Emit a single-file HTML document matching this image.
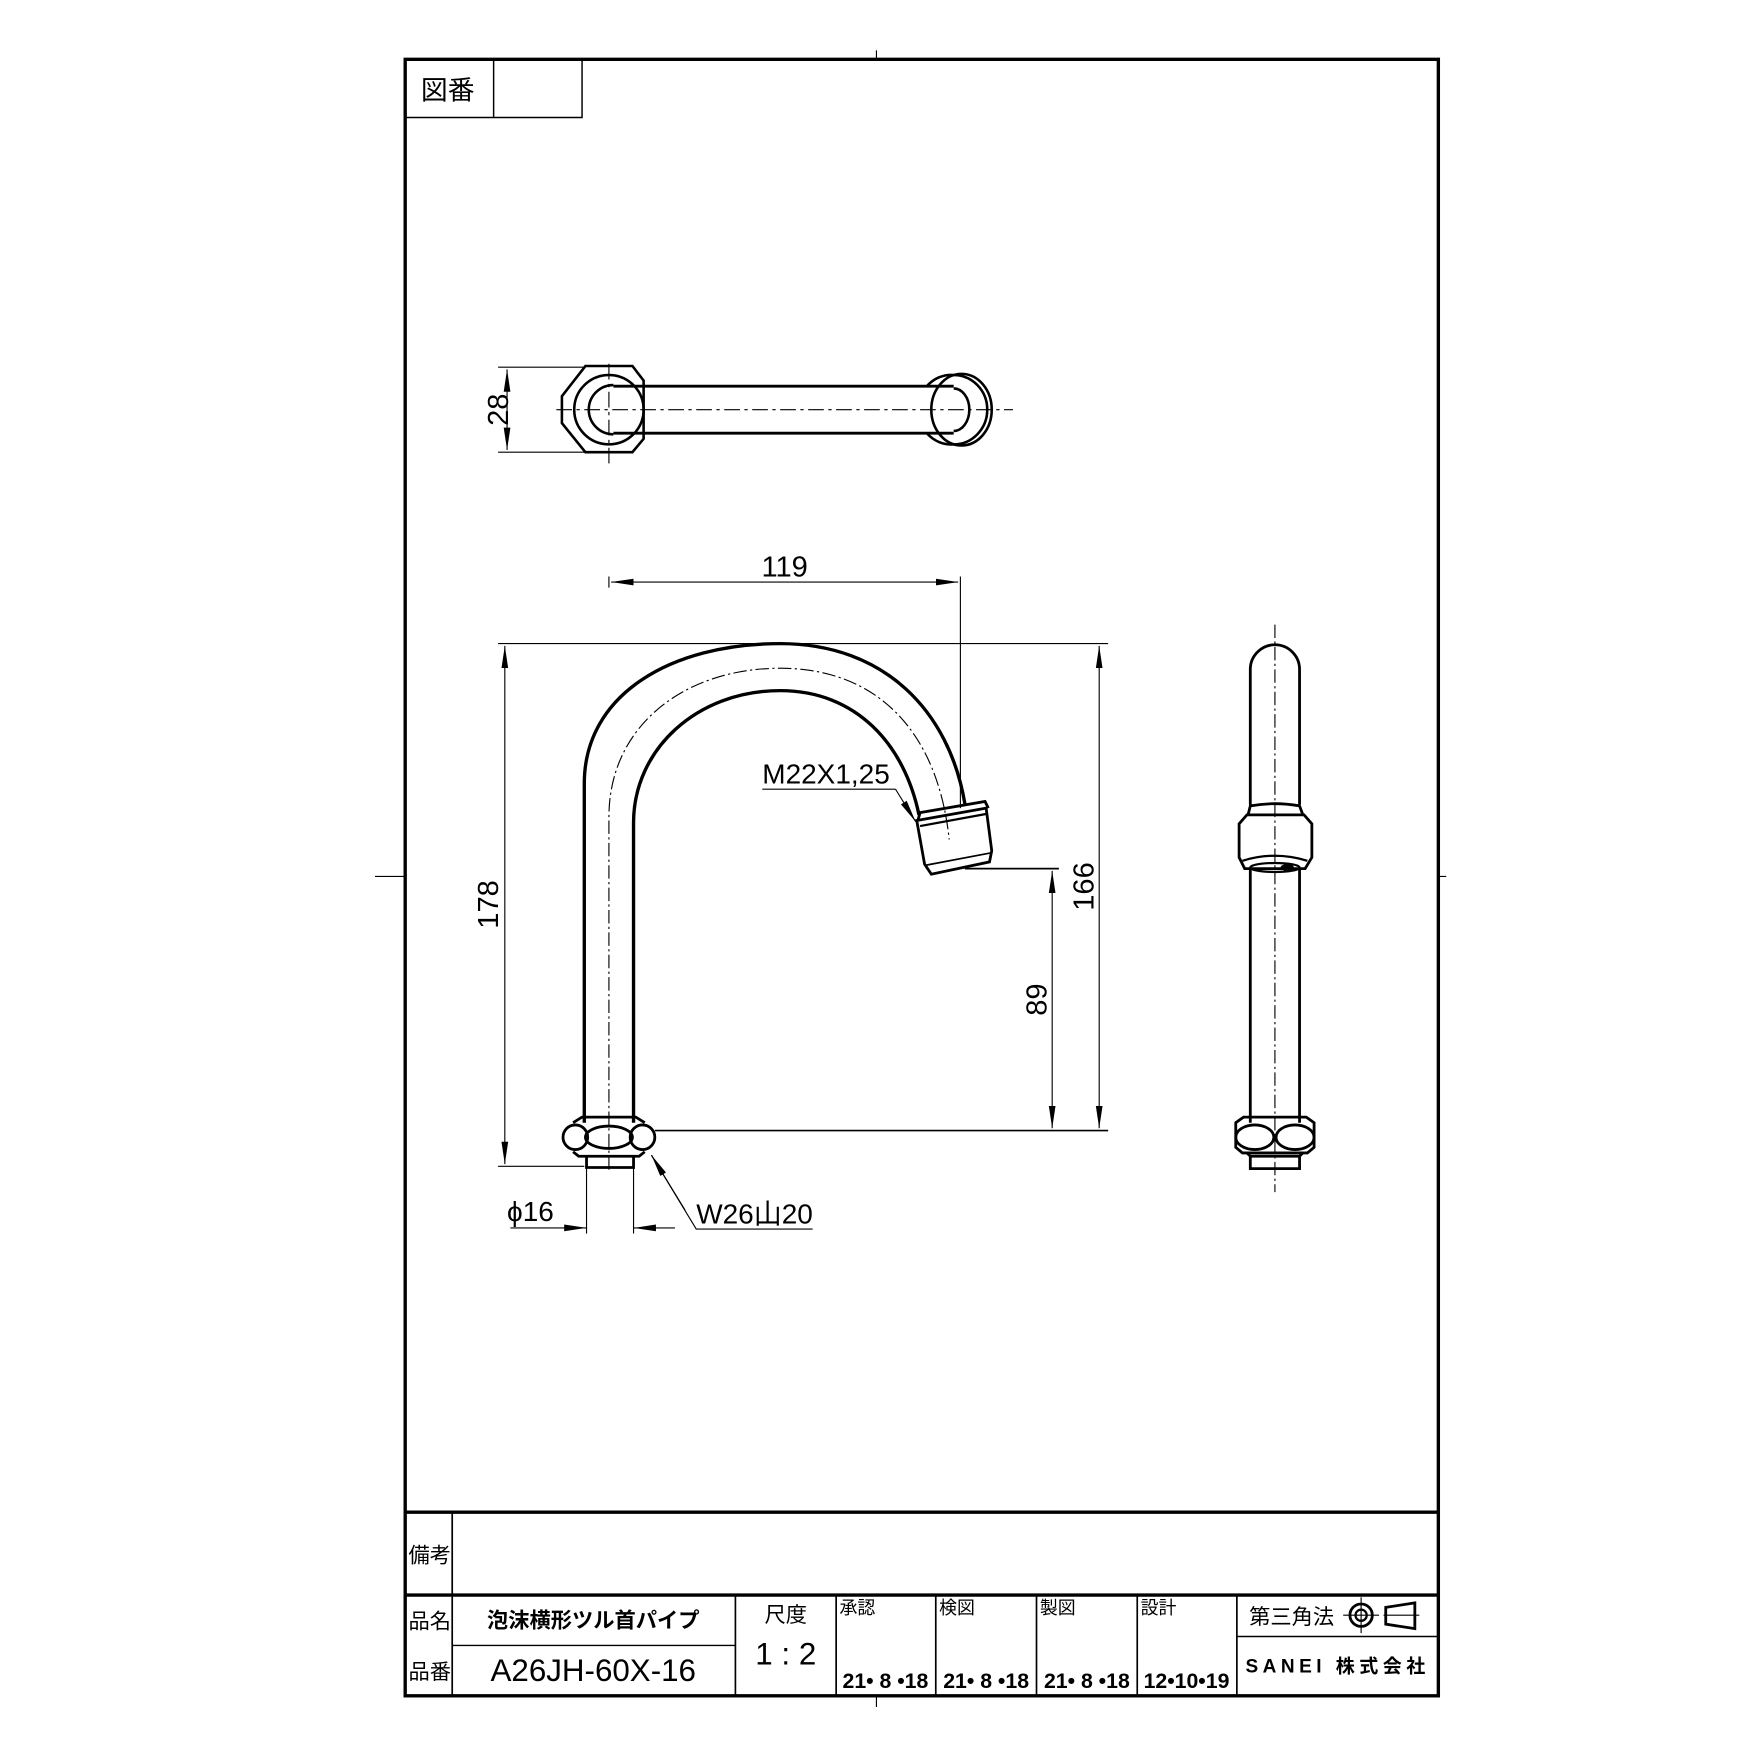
<!DOCTYPE html>
<html><head><meta charset="utf-8"><style>
html,body{margin:0;padding:0;background:#fff}
svg{display:block}
text{font-family:"Liberation Sans","Noto Sans CJK JP",sans-serif;fill:#000}
</style></head><body>
<svg width="1754" height="1754" viewBox="0 0 1567 1567" xmlns="http://www.w3.org/2000/svg">
<defs>
<marker id="a" viewBox="0 0 20 8" refX="20" refY="4" markerWidth="20" markerHeight="8" markerUnits="userSpaceOnUse" orient="auto-start-reverse"><path d="M0,1 L20,4 L0,7 Z" fill="#000"/></marker>
</defs>
<g fill="none" stroke="#000">
<rect x="362" y="53" width="923" height="1462" stroke-width="3"/>
<line x1="783" y1="45" x2="783" y2="53" stroke-width="1"/>
<line x1="335" y1="783" x2="362" y2="783" stroke-width="1"/>
<line x1="1285" y1="783" x2="1292" y2="783" stroke-width="1"/>
<line x1="783" y1="1515" x2="783" y2="1525" stroke-width="1"/>
<path d="M362,105 H520 V53 M441,53 V105" stroke-width="1.3"/>
<line x1="362" y1="1351" x2="1285" y2="1351" stroke-width="3"/>
<line x1="362" y1="1425" x2="1285" y2="1425" stroke-width="3"/>
<line x1="404" y1="1351" x2="404" y2="1515" stroke-width="1.5"/>
<line x1="404" y1="1470" x2="657" y2="1470" stroke-width="1.3"/>
<path d="M657,1425V1515 M747,1425V1515 M836,1425V1515 M926,1425V1515 M1016,1425V1515 M1105,1425V1515" stroke-width="1.5"/>
<line x1="1105" y1="1462" x2="1285" y2="1462" stroke-width="1.3"/>
<circle cx="1216" cy="1443" r="10" stroke-width="2.5"/>
<circle cx="1216" cy="1443" r="5" stroke-width="2"/>
<path d="M1200,1443H1232 M1216,1427V1459 M1236,1443H1268" stroke-width="1"/>
<path d="M1238,1436 L1264,1432 L1264,1455 L1238,1451 Z" stroke-width="2.5"/>

<line x1="497" y1="366" x2="905" y2="366" stroke-width="1" stroke-dasharray="14,4,3,4"/>
<line x1="544" y1="325" x2="544" y2="417" stroke-width="1" stroke-dasharray="14,4,3,4"/>
<path d="M523,327 H565 L575,340 L575,392 L565,404 H523 L502,378 L502,354 Z" stroke-width="2.3"/>
<circle cx="544" cy="366" r="31" stroke-width="2.3"/>
<path d="M548,344 A22,22 0 1 0 548,388" stroke-width="2.3"/>
<path d="M548,345 H852 M548,387 H852" stroke-width="2.5"/>
<path d="M828,345 A30,32 0 0 1 852,335 A30,31 0 0 1 852,397 A30,32 0 0 1 828,387" stroke-width="2.3"/>
<ellipse cx="859" cy="366" rx="27" ry="32" stroke-width="2.3"/>
<path d="M852,347 A14,19 0 0 1 852,385" stroke-width="2.3"/>
<path d="M445,328 H523 M445,404 H523" stroke-width="1"/>
<line x1="453" y1="330" x2="453" y2="402" stroke-width="1" marker-start="url(#a)" marker-end="url(#a)"/>

<path d="M522,1003 V700 C522,620 600,575 697,575 C790,575 848,635 862,718" stroke-width="3"/>
<path d="M566,1003 V735 C566,670 622,617 697,617 C765,617 808,665 821,728" stroke-width="3"/>
<path d="M544,1045 V730 C544,648 612,597 697,597 C785,597 838,655 848,750" stroke-width="1" stroke-dasharray="12,3,2,3"/>
<path d="M819,733 L881,722 L886,760 L884,770 L832,781 L826,772 Z" stroke-width="2.5"/>
<path d="M820,733 L822,726 L880,716 L883,722" stroke-width="2.5"/>
<path d="M822,738 L882,727" stroke-width="2"/>
<path d="M827,773 L885,762" stroke-width="1.5"/>
<path d="M512,1003 L520,998 H568 L576,1003 M512,1029 L517,1033 H571 L576,1029" stroke-width="2.5"/>
<circle cx="514" cy="1016" r="11" stroke-width="2.5"/>
<circle cx="574" cy="1016" r="11" stroke-width="2.5"/>
<ellipse cx="544" cy="1016" rx="21" ry="10" stroke-width="2.5"/>
<path d="M524,1033 V1043 H566 V1033" stroke-width="2.5"/>

<path d="M544,515 V525 M858,515 V722" stroke-width="1"/>
<line x1="546" y1="520" x2="856" y2="520" stroke-width="1" marker-start="url(#a)" marker-end="url(#a)"/>
<path d="M445,575 H990 M445,1042 H522" stroke-width="1"/>
<line x1="451" y1="577" x2="451" y2="1040" stroke-width="1" marker-start="url(#a)" marker-end="url(#a)"/>
<line x1="585" y1="1010" x2="990" y2="1010" stroke-width="1.5"/>
<line x1="982" y1="577" x2="982" y2="1008" stroke-width="1" marker-start="url(#a)" marker-end="url(#a)"/>
<line x1="862" y1="776" x2="946" y2="776" stroke-width="1.5"/>
<line x1="940" y1="778" x2="940" y2="1008" stroke-width="1" marker-start="url(#a)" marker-end="url(#a)"/>
<path d="M524,1043 V1102 M566,1043 V1102" stroke-width="1"/>
<line x1="456" y1="1097" x2="524" y2="1097" stroke-width="1" marker-end="url(#a)"/>
<line x1="603" y1="1097" x2="566" y2="1097" stroke-width="1" marker-end="url(#a)"/>
<path d="M726,1098 H622 L582,1032" stroke-width="1"/>
<line x1="612" y1="1081" x2="582" y2="1032" stroke-width="1" marker-end="url(#a)"/>
<path d="M681,705 H800" stroke-width="1"/>
<line x1="800" y1="705" x2="818" y2="734" stroke-width="1" marker-end="url(#a)"/>

<line x1="1139" y1="558" x2="1139" y2="1065" stroke-width="1" stroke-dasharray="12,3,2,3"/>
<path d="M1117,719 V598 A22,22 0 0 1 1161,598 V719" stroke-width="2.5"/>
<path d="M1117,777 V1003 M1161,777 V1003" stroke-width="2.5"/>
<path d="M1115,728 L1117,720 Q1139,716 1161,720 L1164,728" stroke-width="2.5"/>
<path d="M1107,736 L1114,728 H1165 L1172,736 V766 L1166,776 H1112 L1107,766 Z" stroke-width="2.5"/>
<path d="M1110,769 Q1139,760 1168,769" stroke-width="2"/>
<ellipse cx="1139" cy="775" rx="22" ry="4" stroke-width="2"/>
<path d="M1104,1003 L1111,998 H1167 L1174,1003 V1025 L1168,1030 H1110 L1104,1025 Z" stroke-width="2.5"/>
<ellipse cx="1121" cy="1016" rx="17" ry="11" stroke-width="2.5"/>
<ellipse cx="1157" cy="1016" rx="17" ry="11" stroke-width="2.5"/>
<path d="M1114,1030 L1117,1033 H1161 L1164,1030 M1117,1033 V1044 H1161 V1033" stroke-width="2.5"/>
</g>
<ellipse cx="1150" cy="775" rx="6" ry="3" fill="#000"/>

<text x="376" y="89" font-size="24">図番</text>
<text x="445" y="375" font-size="26" transform="rotate(-90 445 366)" text-anchor="middle">28</text>
<text x="701" y="515" font-size="26" text-anchor="middle">119</text>
<text x="445" y="808" font-size="26" text-anchor="middle" transform="rotate(-90 445 808)">178</text>
<text x="977" y="792" font-size="26" text-anchor="middle" transform="rotate(-90 977 792)">166</text>
<text x="935" y="893" font-size="26" text-anchor="middle" transform="rotate(-90 935 893)">89</text>
<text x="681" y="700" font-size="25">M22X1,25</text>
<text x="453" y="1091" font-size="25">ϕ16</text>
<text x="622" y="1093" font-size="25">W26山20</text>

<text x="365" y="1396" font-size="19">備考</text>
<text x="365" y="1455" font-size="19">品名</text>
<text x="365" y="1500" font-size="19">品番</text>
<text x="530" y="1454" font-size="19" font-weight="bold" text-anchor="middle">泡沫横形ツル首パイプ</text>
<text x="530" y="1502" font-size="28" text-anchor="middle">A26JH-60X-16</text>
<text x="702" y="1449" font-size="19" text-anchor="middle">尺度</text>
<text x="702" y="1487" font-size="28" text-anchor="middle">1 : 2</text>
<text x="750" y="1442" font-size="16">承認</text>
<text x="839" y="1442" font-size="16">検図</text>
<text x="929" y="1442" font-size="16">製図</text>
<text x="1019" y="1442" font-size="16">設計</text>
<text x="791" y="1508" font-size="19" font-weight="bold" text-anchor="middle">21• 8 •18</text>
<text x="881" y="1508" font-size="19" font-weight="bold" text-anchor="middle">21• 8 •18</text>
<text x="971" y="1508" font-size="19" font-weight="bold" text-anchor="middle">21• 8 •18</text>
<text x="1060" y="1508" font-size="19" font-weight="bold" text-anchor="middle">12•10•19</text>
<text x="1116" y="1451" font-size="19">第三角法</text>
<text x="1195" y="1494" font-size="17" font-weight="bold" text-anchor="middle" letter-spacing="4">SANEI 株式会社</text>
</svg>
</body></html>
